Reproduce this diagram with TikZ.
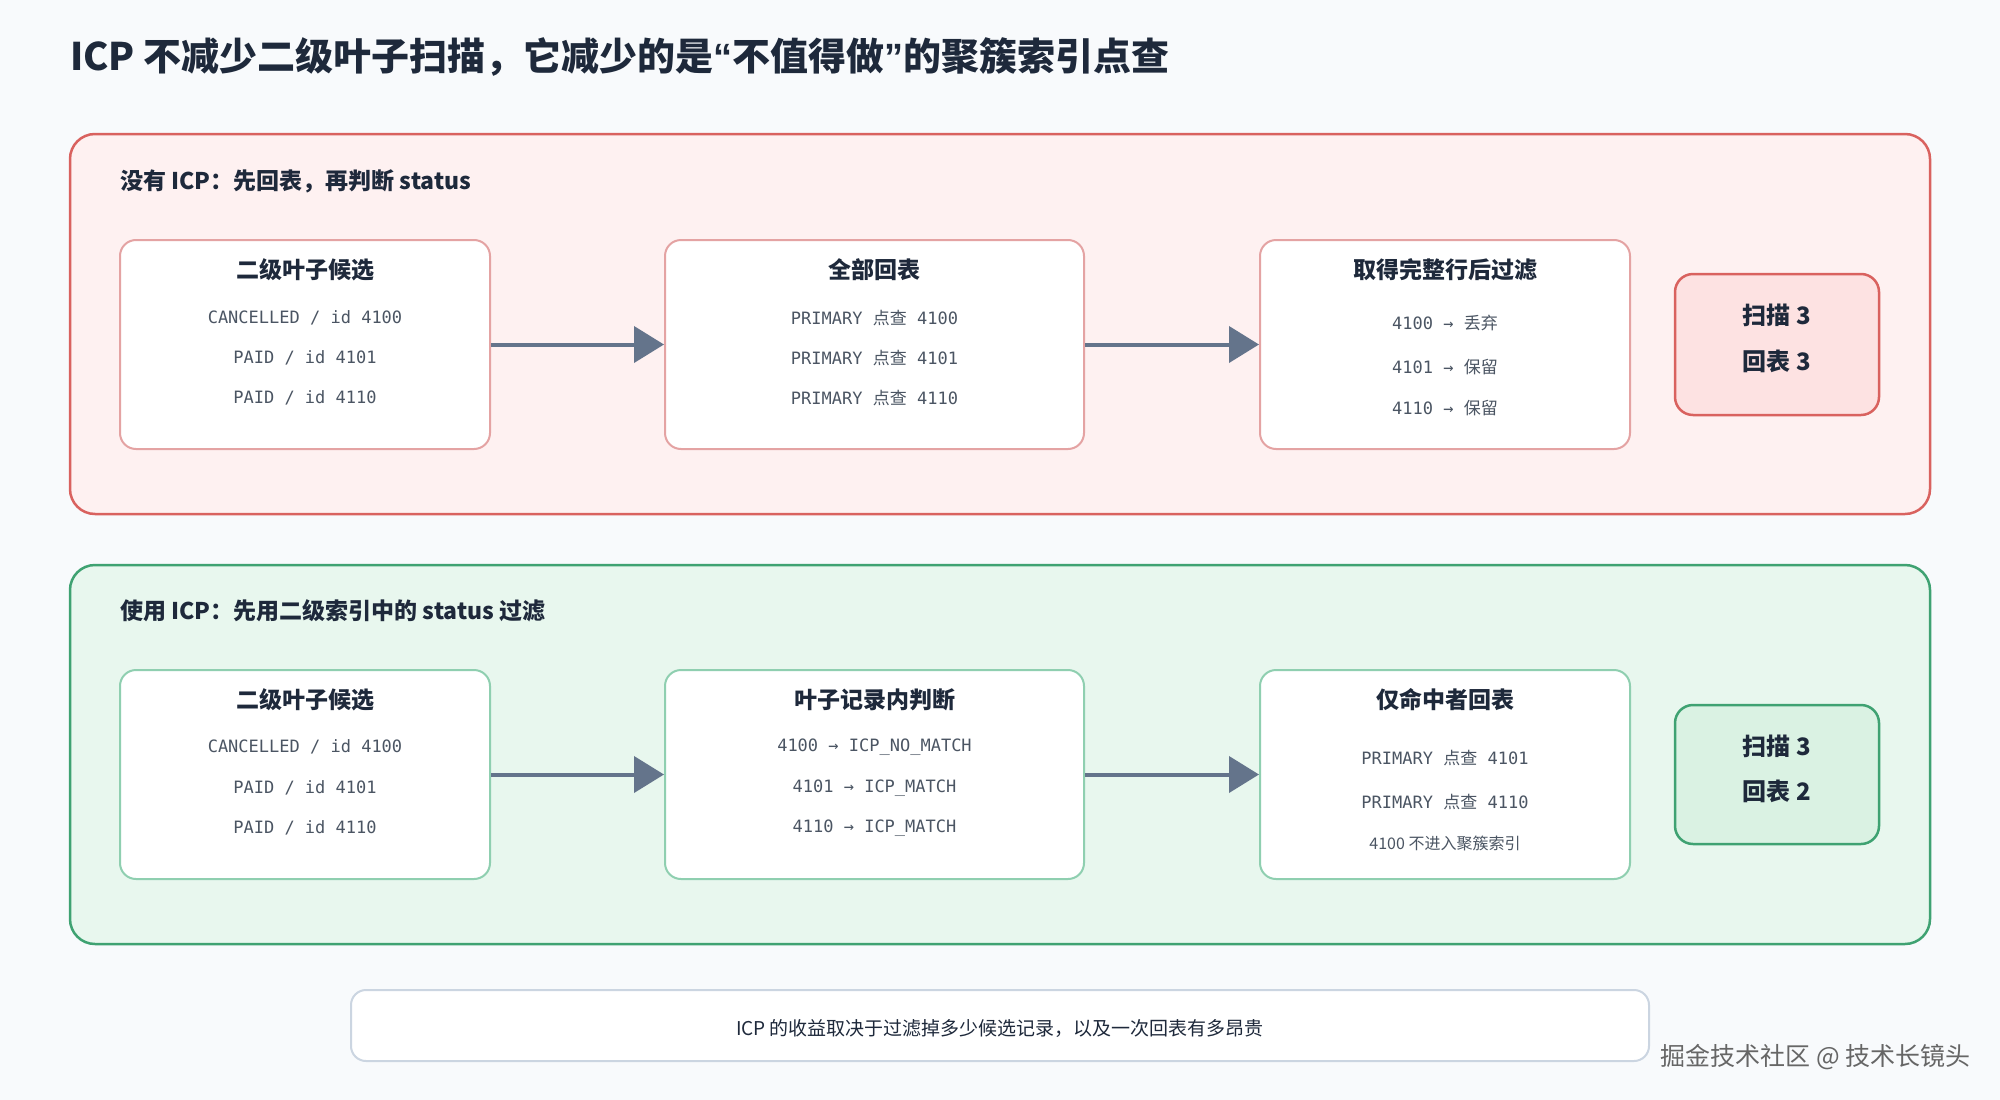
\documentclass[tikz,border=0pt]{standalone}
\usepackage{fontspec}
\setmainfont{Noto Sans CJK SC}
\setmonofont{DejaVu Sans Mono}
\newfontfamily\zhfont{Noto Sans CJK SC}
\newfontfamily\latinfont{Liberation Sans}
\usetikzlibrary{arrows.meta}
\definecolor{bgc}{HTML}{F8FAFC}
\definecolor{ink}{HTML}{1E293B}
\definecolor{monoc}{HTML}{4B5563}
\definecolor{redpanel}{HTML}{FEF1F1}
\definecolor{redline}{HTML}{D9625F}
\definecolor{redbox}{HTML}{E4A3A3}
\definecolor{redsum}{HTML}{FDE2E2}
\definecolor{grnpanel}{HTML}{E8F7EE}
\definecolor{grnline}{HTML}{3FA272}
\definecolor{grnbox}{HTML}{8FCFB0}
\definecolor{grnsum}{HTML}{DAF2E3}
\definecolor{arrc}{HTML}{64748B}
\definecolor{footline}{HTML}{CBD5E1}
\newcommand\zh[1]{{\zhfont #1}}
\newcommand\latq[1]{{\latinfont\bfseries #1}}
\tikzset{
  panelR/.style={draw=redline, fill=redpanel, line width=2.5pt, rounded corners=25pt},
  panelG/.style={draw=grnline, fill=grnpanel, line width=2.5pt, rounded corners=25pt},
  boxR/.style={draw=redbox, fill=white, line width=2pt, rounded corners=16pt, inner sep=0pt},
  boxG/.style={draw=grnbox, fill=white, line width=2pt, rounded corners=16pt, inner sep=0pt},
  sumR/.style={draw=redline, fill=redsum, line width=2.5pt, rounded corners=18pt, inner sep=0pt},
  sumG/.style={draw=grnline, fill=grnsum, line width=2.5pt, rounded corners=18pt, inner sep=0pt},
  ttl/.style={text=ink, font=\fontsize{23}{28}\selectfont\bfseries, inner sep=0pt},
  sumtxt/.style={text=ink, font=\fontsize{24}{29}\selectfont\bfseries, inner sep=0pt},
  mono/.style={text=monoc, font=\fontsize{17}{20}\selectfont\ttfamily, inner sep=0pt},
  lbl/.style={text=ink, font=\fontsize{23}{28}\selectfont\bfseries, inner sep=0pt, anchor=west},
  arr/.style={draw=arrc, line width=4pt, -{Triangle[length=30pt,width=36pt]}},
}
\begin{document}
\begin{tikzpicture}[x=1pt,y=-1pt]
\fill[bgc] (0,0) rectangle (2000,1100);
\useasboundingbox (0,0) rectangle (2000,1100);

\node[anchor=west, text=ink, font=\fontsize{38}{45}\selectfont\bfseries, inner sep=0pt] (title) at (70,57)
  {ICP 不减少二级叶子扫描，它减少的是\latq{“}不值得做\latq{”}的聚簇索引点查};

% top panel
\draw[panelR] (70,134) rectangle (1930,514);
\node[lbl] (lblR) at (120,181) {没有 ICP：先回表，再判断 status};

\node[boxR, minimum width=370pt, minimum height=209pt] (r1) at (305,344.5) {};
\node[boxR, minimum width=419pt, minimum height=209pt] (r2) at (874.5,344.5) {};
\node[boxR, minimum width=370pt, minimum height=209pt] (r3) at (1445,344.5) {};
\node[sumR, minimum width=204pt, minimum height=141pt] (r4) at (1777,344.5) {};

\node[ttl] (r1t) at (305,270) {二级叶子候选};
\node[mono] (r1a) at (305,318) {CANCELLED / id 4100};
\node[mono] (r1b) at (305,358) {PAID / id 4101};
\node[mono] (r1c) at (305,398) {PAID / id 4110};

\node[ttl] (r2t) at (874.5,270) {全部回表};
\node[mono] (r2a) at (874.5,318) {PRIMARY \zh{点查} 4100};
\node[mono] (r2b) at (874.5,358) {PRIMARY \zh{点查} 4101};
\node[mono] (r2c) at (874.5,398) {PRIMARY \zh{点查} 4110};

\node[ttl] (r3t) at (1445,270) {取得完整行后过滤};
\node[mono] (r3a) at (1445,323) {4100 → \zh{丢弃}};
\node[mono] (r3b) at (1445,367) {4101 → \zh{保留}};
\node[mono] (r3c) at (1445,408) {4110 → \zh{保留}};

\node[sumtxt] (r4a) at (1777,315) {扫描 3};
\node[sumtxt] (r4b) at (1777,361) {回表 3};

\draw[arr] (r1.east) -- (r2.west);
\draw[arr] (r2.east) -- (r3.west);

% bottom panel
\draw[panelG] (70,565) rectangle (1930,944);
\node[lbl] (lblG) at (120,611) {使用 ICP：先用二级索引中的 status 过滤};

\node[boxG, minimum width=370pt, minimum height=209pt] (g1) at (305,774.5) {};
\node[boxG, minimum width=419pt, minimum height=209pt] (g2) at (874.5,774.5) {};
\node[boxG, minimum width=370pt, minimum height=209pt] (g3) at (1445,774.5) {};
\node[sumG, minimum width=204pt, minimum height=139pt] (g4) at (1777,774.5) {};

\node[ttl] (g1t) at (305,700) {二级叶子候选};
\node[mono] (g1a) at (305,747) {CANCELLED / id 4100};
\node[mono] (g1b) at (305,788) {PAID / id 4101};
\node[mono] (g1c) at (305,828) {PAID / id 4110};

\node[ttl] (g2t) at (874.5,700) {叶子记录内判断};
\node[mono] (g2a) at (874.5,747) {4100 → ICP\_NO\_MATCH};
\node[mono] (g2b) at (874.5,788) {4101 → ICP\_MATCH};
\node[mono] (g2c) at (874.5,828) {4110 → ICP\_MATCH};

\node[ttl] (g3t) at (1445,700) {仅命中者回表};
\node[mono] (g3a) at (1445,758) {PRIMARY \zh{点查} 4101};
\node[mono] (g3b) at (1445,802) {PRIMARY \zh{点查} 4110};
\node[text=monoc, font=\fontsize{16}{19}\selectfont, inner sep=0pt] (g3c) at (1445,843) {4100 不进入聚簇索引};

\node[sumtxt] (g4a) at (1777,746) {扫描 3};
\node[sumtxt] (g4b) at (1777,791) {回表 2};

\draw[arr] (g1.east) -- (g2.west);
\draw[arr] (g2.east) -- (g3.west);

% footer
\node[draw=footline, fill=white, line width=2pt, rounded corners=15pt, minimum width=1298pt, minimum height=71pt, inner sep=0pt] (foot) at (1000,1025.5) {};
\node[text=ink, font=\fontsize{19}{23}\selectfont, inner sep=0pt] (foottxt) at (1000,1028) {ICP 的收益取决于过滤掉多少候选记录，以及一次回表有多昂贵};

\node[anchor=east, text=black!60, font=\fontsize{25}{30}\selectfont, inner sep=0pt] (wm) at (1971,1057) {掘金技术社区 @ 技术长镜头};
\end{tikzpicture}
\end{document}
